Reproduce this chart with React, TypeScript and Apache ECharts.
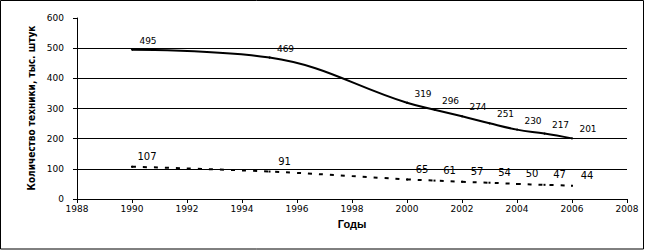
import React, { useEffect, useRef } from "react";
import * as echarts from "echarts";

const years = [1990, 1995, 2000, 2001, 2002, 2003, 2004, 2005, 2006];
const upperValues = [495, 469, 319, 296, 274, 251, 230, 217, 201];
const lowerValues = [107, 91, 65, 61, 57, 54, 50, 47, 44];
const yAxisTitle = "Количество техники, тыс. штук";
const xAxisTitle = "Годы";

const tickFont = '"DejaVu Sans", sans-serif';

export default function App() {
  const ref = useRef<HTMLDivElement>(null);
  useEffect(() => {
    if (!ref.current) return;
    const chart = echarts.init(ref.current, null, { renderer: "svg" });
    const pairs = (vals: number[]) => years.map((y, i) => [y, vals[i]]);
    chart.setOption({
      animation: false,
      backgroundColor: "#fff",
      grid: { left: 77, right: 19, top: 18, bottom: 52, containLabel: false },
      xAxis: {
        type: "value",
        min: 1988,
        max: 2008,
        interval: 2,
        axisLine: { show: true, lineStyle: { color: "#000", width: 1 } },
        axisTick: { show: true, length: 4, lineStyle: { color: "#000" } },
        splitLine: { show: false },
        axisLabel: {
          color: "#000",
          fontFamily: tickFont,
          fontSize: 9,
          margin: 5,
          formatter: (v: number) => String(v),
        },
      },
      yAxis: {
        type: "value",
        min: 0,
        max: 600,
        interval: 100,
        axisLine: { show: true, lineStyle: { color: "#000", width: 1 } },
        axisTick: { show: true, length: 4, lineStyle: { color: "#000" } },
        splitLine: {
          show: true,
          showMaxLine: false,
          lineStyle: { color: "#000", width: 1 },
        },
        axisLabel: {
          color: "#000",
          fontFamily: tickFont,
          fontSize: 9,
          margin: 13,
        },
      },
      series: [
        {
          type: "line",
          data: pairs(upperValues),
          smooth: 0.4,
          showSymbol: true,
          symbol: "circle",
          symbolSize: 2,
          itemStyle: { color: "#000" },
          lineStyle: { color: "#000", width: 2 },
          label: {
            show: true,
            position: "inside",
            offset: [16, -9],
            color: "#000",
            fontFamily: tickFont,
            fontSize: 9,
            formatter: (p: any) => String(p.value[1]),
          },
        },
        {
          type: "line",
          data: pairs(lowerValues),
          smooth: 0.4,
          showSymbol: true,
          symbol: "rect",
          symbolSize: 2,
          itemStyle: { color: "#000" },
          lineStyle: { color: "#000", width: 2, type: [4, 7] },
          label: {
            show: true,
            position: "inside",
            offset: [15, -10],
            color: "#000",
            fontFamily: tickFont,
            fontSize: 10,
            formatter: (p: any) => String(p.value[1]),
          },
        },
      ],
      graphic: [
        {
          type: "rect",
          shape: { x: 0.5, y: 0.5, width: 643, height: 248.5 },
          style: { fill: "none", stroke: "#000", lineWidth: 1 },
          silent: true,
        },
        {
          type: "text",
          x: 31,
          y: 108,
          rotation: Math.PI / 2,
          style: {
            text: yAxisTitle,
            fill: "#000",
            font: 'bold 10px "Liberation Sans Narrow", "DejaVu Sans Condensed", sans-serif',
            align: "center",
            verticalAlign: "middle",
          },
        },
        {
          type: "text",
          x: 352,
          y: 224,
          style: {
            text: xAxisTitle,
            fill: "#000",
            font: 'bold 11px "Liberation Sans", Arial, sans-serif',
            align: "center",
            verticalAlign: "middle",
          },
        },
      ],
    });
    return () => chart.dispose();
  }, []);
  return (
    <div
      ref={ref}
      style={{ position: "fixed", left: 0, top: 0, width: 646, height: 251, background: "#fff" }}
    />
  );
}
